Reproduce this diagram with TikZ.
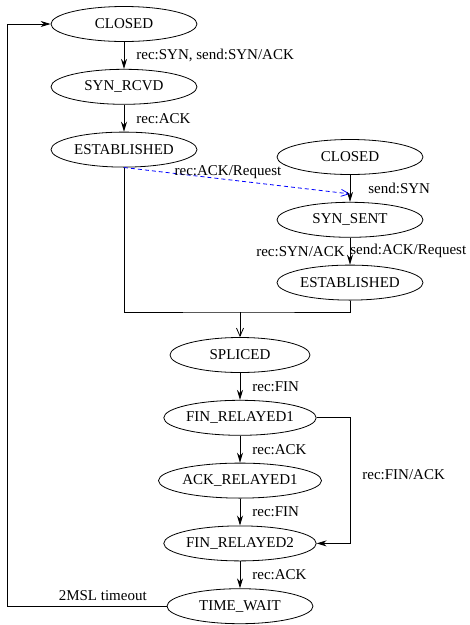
\documentclass[tikz,border=0pt]{standalone}
\usepackage{fontspec}
\setmainfont{Liberation Serif}
\usetikzlibrary{arrows.meta, positioning, shapes.geometric}
\tikzset{
  stnode/.style = {ellipse, draw=black, line width=0.8pt, minimum width=146pt, minimum height=35pt, inner sep=0pt, font=\fontsize{15}{18}\selectfont},
  lbl/.style = {font=\fontsize{15}{18}\selectfont, inner sep=2pt},
  arr/.style = {-{Stealth[length=10pt,width=6pt]}, line width=0.8pt}
}

\begin{document}
\begin{tikzpicture}[x=1pt, y=-1pt, node distance=27pt]
\tikzset{
  barr/.style = {-{Straight Barb[length=8pt,width=7pt]}, line width=0.8pt},
  dasharr/.style = {-{Straight Barb[length=8pt,width=7pt]}, draw=blue, dash pattern=on 4pt off 3pt, line width=0.8pt}
}
\useasboundingbox (0,0) rectangle (470,625);

% Left column (passive open)
\node[stnode] (l1) at (124,24) {CLOSED};
\node[stnode, below=of l1] (l2) {SYN\_RCVD};
\node[stnode, below=of l2] (l3) {ESTABLISHED};

% Right column (active open)
\node[stnode] (r1) at (350,157) {CLOSED};
\node[stnode, below=of r1] (r2) {SYN\_SENT};
\node[stnode, below=of r2] (r3) {ESTABLISHED};

% Middle column (splice and close)
\node[stnode, minimum width=140pt] (m1) at (240,355) {SPLICED};
\node[stnode, below=of m1] (m2) {FIN\_RELAYED1};
\node[stnode, below=of m2] (m3) {ACK\_RELAYED1};
\node[stnode, below=of m3] (m4) {FIN\_RELAYED2};
\node[stnode, below=of m4] (m5) {TIME\_WAIT};

% ----- ARROWS -----
% Left column
\draw[arr] (l1) -- node[lbl, right=10pt] {rec:SYN, send:SYN/ACK} (l2);
\draw[arr] (l2) -- node[lbl, right=10pt] {rec:ACK} (l3);
% Cross over to the right column
\draw[dasharr] (l3.south) -- node[lbl, above=-1pt, pos=0.46] {rec:ACK/Request} ([yshift=8pt]r2.north);
% Right column
\draw[arr] (r1) -- node[lbl, right=16pt] {send:SYN} (r2);
\draw[arr] (r2) -- node[lbl, left=3pt] {rec:SYN/ACK} node[lbl, right=-2pt] {send:ACK/Request} (r3);
% Both ESTABLISHED join into SPLICED
\coordinate (join) at (240,312);
\draw[line width=0.8pt] (l3.south) |- (join) -| (r3.south);
\draw[barr] (join) -- (m1);
% Middle column
\draw[arr] (m1) -- node[lbl, right=10pt] {rec:FIN} (m2);
\draw[arr] (m2) -- node[lbl, right=10pt] {rec:ACK} (m3);
\draw[arr] (m3) -- node[lbl, right=10pt] {rec:FIN} (m4);
\draw[arr] (m4) -- node[lbl, right=10pt] {rec:ACK} (m5);
% Shortcut FIN_RELAYED1 -> FIN_RELAYED2
\draw[arr] (m2.east) -- (m2.east -| r3) -- node[lbl, right=10pt, pos=0.45] {rec:FIN/ACK} (m4.east -| r3) -- (m4.east);
% Back to CLOSED
\coordinate (rail) at (7,0);
\draw[arr] (m5.west) -- node[lbl, above=3pt, pos=0.4] {2MSL timeout} (m5.west -| rail) |- (l1.west);

\end{tikzpicture}
\end{document}
